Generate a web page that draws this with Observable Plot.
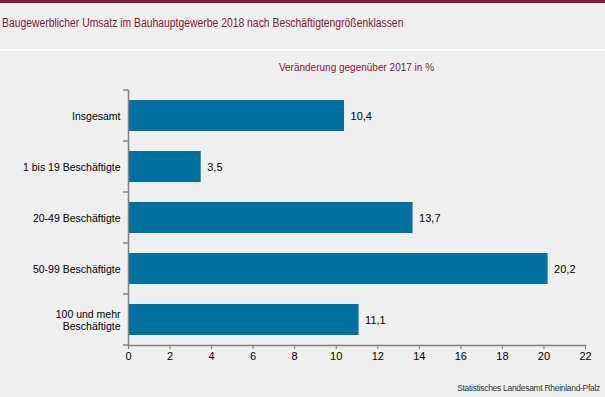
<!DOCTYPE html>
<html><head><meta charset="utf-8">
<script src="https://cdn.jsdelivr.net/npm/d3@7"></script>
<script src="https://cdn.jsdelivr.net/npm/@observablehq/plot@0.6"></script>
<style>
html,body{margin:0;padding:0;background:#eeefee;}
#wrap{position:relative;width:605px;height:397px;background:#eeefee;overflow:hidden;font-family:"Liberation Sans",Arial,sans-serif;}
#topbar{position:absolute;left:0;top:0;width:605px;height:3px;background:#8b1a3a;}
#title{position:absolute;left:2px;top:16px;font-size:12.5px;color:#8b1538;white-space:nowrap;transform:scaleX(0.83);transform-origin:0 0;}
#sep{position:absolute;left:0;top:49px;width:605px;height:2px;background:#ffffff;}
#subtitle{position:absolute;left:128px;width:457px;top:62px;text-align:center;font-size:10px;color:#8b1538;white-space:nowrap;}
#chart{position:absolute;left:0;top:60px;}
#caption{position:absolute;right:5px;top:383px;font-size:8.5px;color:#333;letter-spacing:-0.3px;white-space:nowrap;}
</style></head>
<body>
<div id="wrap">
<div id="topbar"></div>
<div id="title">Baugewerblicher Umsatz im Bauhauptgewerbe 2018 nach Beschäftigtengrößenklassen</div>
<div id="sep"></div>
<div id="subtitle">Veränderung gegenüber 2017 in %</div>
<div id="chart"></div>
<div id="caption">Statistisches Landesamt Rheinland-Pfalz</div>
</div>
<script>
const categories = ["Insgesamt", "1 bis 19 Beschäftigte", "20-49 Beschäftigte", "50-99 Beschäftigte", "100 und mehr\nBeschäftigte"];
const values = [10.4, 3.5, 13.7, 20.2, 11.1];
const xTicks = [0, 2, 4, 6, 8, 10, 12, 14, 16, 18, 20, 22];

const data = categories.map((c, i) => ({cat: c, val: values[i]}));
const fmt = v => d3.format(".1f")(v).replace(".", ",");

// tick marks at band boundaries on the left axis
function bandBoundaryTicks(index, scales, values, dimensions) {
  const y = scales.y;
  const step = y.step();
  const dom = y.domain();
  const gap = (step - y.bandwidth()) / 2;
  const g = d3.create("svg:g");
  const x0 = dimensions.marginLeft;
  const positions = dom.map(d => y(d) - gap);
  positions.push(y(dom[dom.length - 1]) + y.bandwidth() + gap);
  for (const p of positions) {
    g.append("line").attr("x1", x0 - 5).attr("x2", x0).attr("y1", p).attr("y2", p)
      .attr("stroke", "#808080").attr("stroke-width", 1.5);
  }
  return g.node();
}

const chart = Plot.plot({
  width: 605,
  height: 315,
  marginLeft: 128,
  marginRight: 20,
  marginTop: 30,
  marginBottom: 30,
  style: {background: "transparent", fontFamily: "'Liberation Sans', Arial, sans-serif", fontSize: "11px", color: "#000"},
  x: {domain: [0, 22]},
  y: {domain: categories, paddingInner: 0.4, paddingOuter: 0.2, align: 0.5},
  marks: [
    Plot.barX(data, {x: "val", y: "cat", fill: "#00719f"}),
    Plot.text(data, {x: "val", y: "cat", text: d => fmt(d.val), textAnchor: "start", dx: 6, fontSize: 11, fill: "#000"}),
    Plot.frame({anchor: "left", stroke: "#808080", strokeWidth: 1.5}),
    Plot.frame({anchor: "bottom", stroke: "#808080", strokeWidth: 1.5}),
    bandBoundaryTicks,
    Plot.axisX({ticks: xTicks, tickSize: 4, tickPadding: 3, tickFormat: d => String(d), label: null, stroke: "#808080", fontSize: 11}),
    Plot.axisY({tickSize: 0, tickPadding: 8, label: null, fontSize: 10.5, lineHeight: 1.15})
  ]
});
document.getElementById("chart").appendChild(chart);
</script>
</body></html>
